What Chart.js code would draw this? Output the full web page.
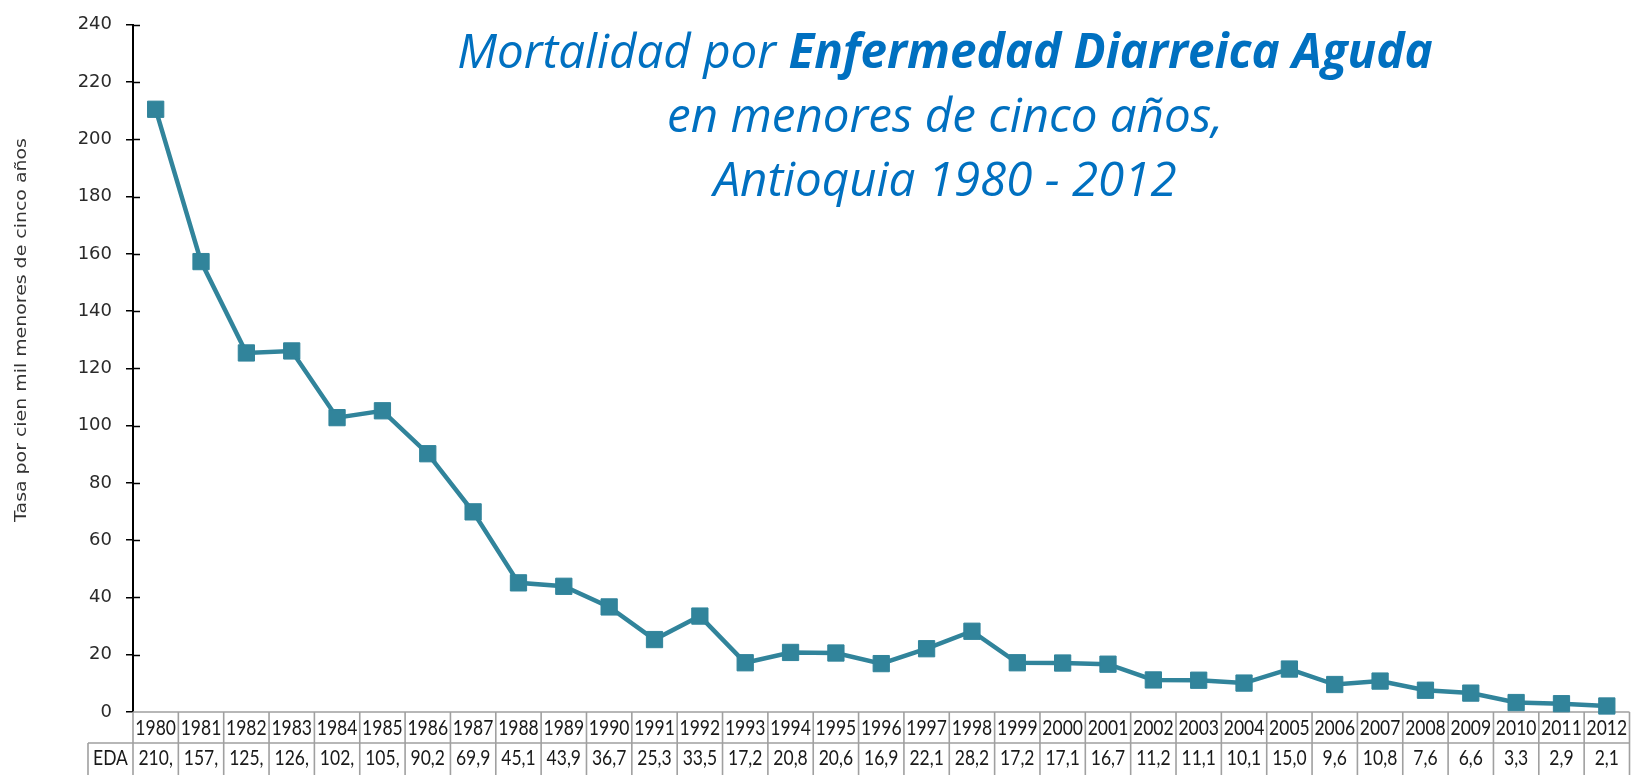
<!DOCTYPE html>
<html>
<head>
<meta charset="utf-8">
<script src="https://cdn.jsdelivr.net/npm/chart.js@4.4.1/dist/chart.umd.min.js"></script>
<style>
  html, body { margin: 0; padding: 0; background: #fff; }
  #wrap { position: relative; width: 1642px; height: 775px; overflow: hidden; }
  canvas { position: absolute; left: 0; top: 0; }
  #title {
    position: absolute; left: 345px; top: 18px; width: 1200px;
    text-align: center; color: #0070C0;
    font-family: "Open Sans", Lato, sans-serif; font-style: italic;
    font-size: 47.5px; line-height: 64px; white-space: nowrap;
  }
  #title b { font-weight: bold; }
</style>
</head>
<body>
<div id="wrap">
  <canvas id="c" width="1642" height="775"></canvas>
  <div id="title">Mortalidad por <b>Enfermedad Diarreica Aguda</b><br>en menores de cinco años,<br>Antioquia 1980 - 2012</div>
</div>
<script>
const years = ['1980','1981','1982','1983','1984','1985','1986','1987','1988','1989','1990','1991','1992','1993','1994','1995','1996','1997','1998','1999','2000','2001','2002','2003','2004','2005','2006','2007','2008','2009','2010','2011','2012'];
const edaValues = [210.5,157.3,125.4,126.1,102.8,105.2,90.2,69.9,45.1,43.9,36.7,25.3,33.5,17.2,20.8,20.6,16.9,22.1,28.2,17.2,17.1,16.7,11.2,11.1,10.1,15.0,9.6,10.8,7.6,6.6,3.3,2.9,2.1];
const seriesName = 'EDA';
const yAxisTitle = 'Tasa por cien mil menores de cinco años';
const yMin = 0, yMax = 240, yStep = 20;

function tableText(v) {
  return v >= 100 ? Math.floor(v) + ',' : v.toFixed(1).replace('.', ',');
}

const lineColor = '#31849B';

const tablePlugin = {
  id: 'dataTable',
  beforeDatasetsDraw(chart) {
    const ctx = chart.ctx;
    const x = chart.scales.x;
    const area = chart.chartArea;
    const n = years.length;
    const w = (area.right - area.left) / n;
    const top = area.bottom, mid = area.bottom + 31, bot = area.bottom + 64;
    const labelLeft = 88;
    ctx.save();
    ctx.strokeStyle = '#a0a0a0';
    ctx.lineWidth = 1.6;
    ctx.beginPath();
    ctx.moveTo(area.left, top); ctx.lineTo(area.right, top);
    ctx.moveTo(labelLeft, mid); ctx.lineTo(area.right, mid);
    ctx.moveTo(labelLeft, bot); ctx.lineTo(area.right, bot);
    ctx.moveTo(labelLeft, mid); ctx.lineTo(labelLeft, bot);
    for (let i = 0; i <= n; i++) {
      const xe = x.getPixelForValue(Math.min(i, n - 1)) + (i === n ? w / 2 : -w / 2);
      ctx.moveTo(xe, top); ctx.lineTo(xe, bot);
    }
    ctx.stroke();

    ctx.fillStyle = '#1a1a1a';
    ctx.font = '17.5px Lato, "Open Sans", sans-serif';
    ctx.textAlign = 'center';
    ctx.textBaseline = 'middle';
    const sy = 1.22;
    function txt(s, cx, cy) {
      ctx.save();
      ctx.translate(cx, cy);
      ctx.scale(1, sy);
      ctx.fillText(s, 0, 0);
      ctx.restore();
    }
    for (let i = 0; i < n; i++) {
      const cx = x.getPixelForValue(i);
      txt(years[i], cx, (top + mid) / 2 + 1);
      txt(tableText(edaValues[i]), cx, (mid + bot) / 2 - 1);
    }
    txt(seriesName, (labelLeft + area.left) / 2, (mid + bot) / 2 - 1);
    ctx.restore();
  },
  afterDraw(chart) {
    const ctx = chart.ctx;
    const y = chart.scales.y;
    const area = chart.chartArea;
    ctx.save();
    ctx.strokeStyle = '#000';
    ctx.lineWidth = 1.5;
    ctx.beginPath();
    y.ticks.forEach((t) => {
      if (t.value === 0) return;
      const py = Math.round(y.getPixelForValue(t.value)) + 0.5;
      ctx.moveTo(area.left, py); ctx.lineTo(area.left + 7, py);
    });
    ctx.stroke();
    ctx.fillStyle = '#333';
    ctx.font = '15.5px "DejaVu Sans", sans-serif';
    ctx.textAlign = 'center';
    ctx.textBaseline = 'middle';
    ctx.translate(22, 330);
    ctx.rotate(-Math.PI / 2);
    ctx.scale(1.22, 1);
    ctx.fillText(yAxisTitle, 0, 0);
    ctx.restore();
  }
};

new Chart(document.getElementById('c'), {
  type: 'line',
  data: {
    labels: years,
    datasets: [{
      label: seriesName,
      data: edaValues,
      borderColor: lineColor,
      backgroundColor: lineColor,
      borderWidth: 4.5,
      pointStyle: 'rect',
      pointRadius: 11.5,
      pointBorderWidth: 1,
      pointBackgroundColor: lineColor,
      pointBorderColor: lineColor,
      tension: 0,
      clip: false
    }]
  },
  options: {
    responsive: false,
    animation: false,
    events: [],
    layout: { padding: { left: 0, right: 6, top: 16, bottom: 63 } },
    plugins: { legend: { display: false }, tooltip: { enabled: false }, title: { display: false } },
    scales: {
      x: { type: 'category', offset: true, display: false },
      y: {
        min: yMin, max: yMax,
        afterFit(s) { s.width = 133; },
        ticks: {
          stepSize: yStep,
          padding: 14,
          color: '#2a2a2a',
          font: { family: '"DejaVu Sans", sans-serif', size: 18 }
        },
        grid: { display: true, drawOnChartArea: false, drawTicks: true, tickLength: 7, color: '#000', lineWidth: 1.5 },
        border: { display: true, color: '#000', width: 2 }
      }
    }
  },
  plugins: [tablePlugin]
});
</script>
</body>
</html>
